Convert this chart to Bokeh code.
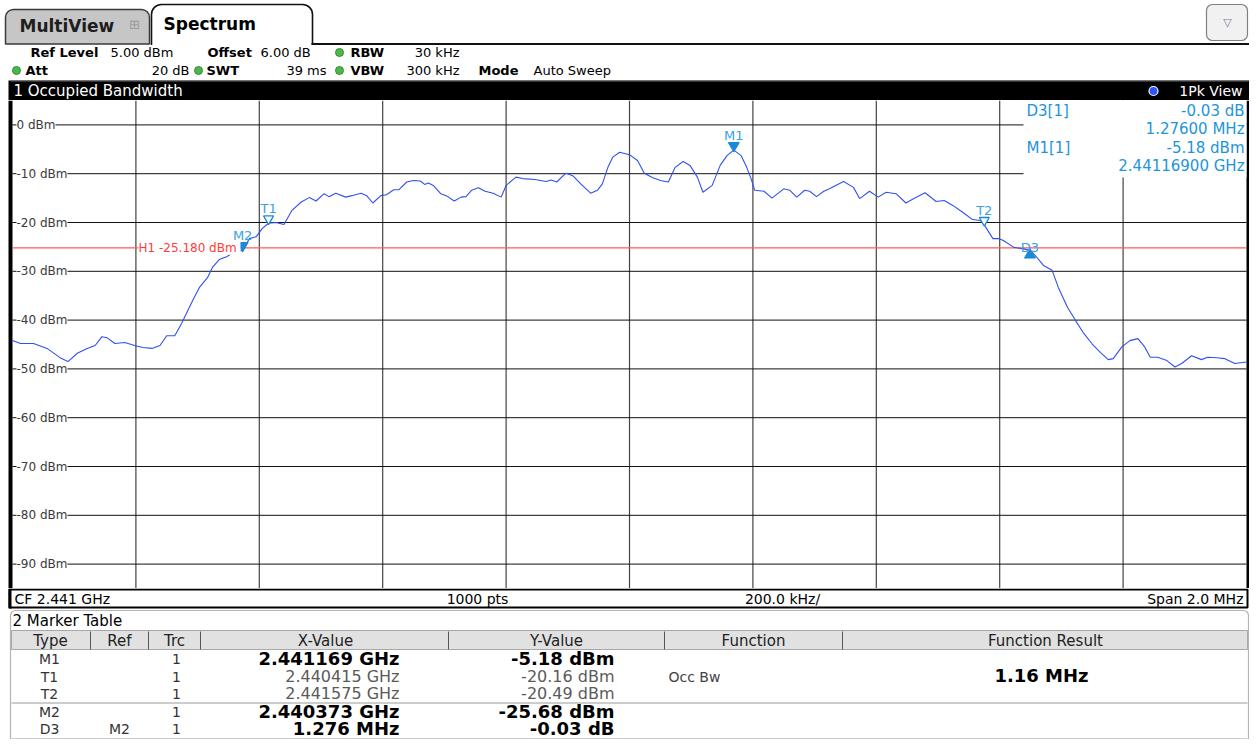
from bokeh.plotting import figure
from bokeh.models import Range1d, Label, LabelSet, ColumnDataSource, BoxAnnotation
from bokeh.layouts import column
from bokeh.core.properties import value
from bokeh.embed import file_html
from bokeh.resources import INLINE

# ---------------- data ----------------
center_ghz = 2.441
span_mhz = 2.0
ref_level_dbm = 5.0
range_db = 100.0
n_points = 1000
rbw_khz = 30
vbw_khz = 300
att_db = 20
offset_db = 6.0
swt_ms = 39

# trace (offset from start frequency, MHz) and level (dBm)
trace_offset_mhz = [
    0.000, 0.013, 0.034, 0.056, 0.077, 0.090, 0.105, 0.121, 0.134, 0.145,
    0.153, 0.166, 0.182, 0.198, 0.211, 0.226, 0.239, 0.250, 0.263, 0.274,
    0.282, 0.292, 0.303, 0.316, 0.324, 0.335, 0.347, 0.356, 0.373, 0.384,
    0.395, 0.405, 0.415, 0.427, 0.440, 0.453, 0.468, 0.481, 0.492, 0.505,
    0.513, 0.524, 0.540, 0.550, 0.565, 0.574, 0.584, 0.597, 0.606, 0.618,
    0.626, 0.639, 0.650, 0.661, 0.668, 0.674, 0.682, 0.694, 0.703, 0.716,
    0.727, 0.735, 0.744, 0.755, 0.766, 0.779, 0.792, 0.800, 0.816, 0.827,
    0.847, 0.865, 0.873, 0.882, 0.897, 0.908, 0.921, 0.937, 0.948, 0.956,
    0.965, 0.973, 0.984, 1.000, 1.013, 1.024, 1.037, 1.050, 1.063, 1.074,
    1.087, 1.098, 1.110, 1.119, 1.134, 1.147, 1.158, 1.169, 1.181, 1.190,
    1.197, 1.203, 1.218, 1.231, 1.250, 1.260, 1.271, 1.284, 1.292, 1.303,
    1.315, 1.324, 1.347, 1.363, 1.373, 1.389, 1.403, 1.416, 1.432, 1.448,
    1.461, 1.479, 1.497, 1.510, 1.524, 1.540, 1.556, 1.569, 1.575, 1.589,
    1.598, 1.606, 1.623, 1.639, 1.649, 1.655, 1.671, 1.685, 1.695, 1.710,
    1.723, 1.735, 1.750, 1.763, 1.776, 1.784, 1.798, 1.811, 1.824, 1.835,
    1.844, 1.856, 1.871, 1.884, 1.895, 1.911, 1.927, 1.937, 1.952, 1.965,
    1.981, 2.000,
]
trace_dbm = [
    -44.2, -44.8, -44.8, -45.8, -47.7, -48.5, -46.8, -45.8, -45.2, -43.4,
    -43.6, -44.8, -44.6, -45.2, -45.6, -45.8, -45.2, -43.2, -43.2, -40.7,
    -38.6, -36.0, -33.3, -31.3, -29.2, -27.6, -27.0, -26.3, -25.68, -23.3,
    -22.9, -21.2, -20.16, -20.0, -20.4, -17.5, -15.8, -14.9, -15.6, -14.1,
    -14.7, -14.0, -14.8, -14.5, -14.0, -14.5, -16.0, -14.5, -14.3, -13.3,
    -13.3, -11.7, -11.4, -11.5, -12.2, -11.9, -12.4, -14.1, -14.5, -15.6,
    -14.8, -14.7, -13.4, -12.9, -13.6, -14.0, -14.8, -12.4, -10.7, -11.0,
    -11.2, -11.6, -11.3, -11.7, -9.9, -10.4, -12.1, -14.0, -13.4, -12.1,
    -8.7, -6.6, -5.6, -6.1, -7.3, -9.9, -10.8, -11.4, -11.7, -8.7,
    -7.5, -8.3, -10.7, -13.8, -12.4, -8.3, -6.3, -5.18, -6.3, -8.7,
    -11.0, -13.4, -13.6, -15.0, -13.1, -13.4, -14.8, -13.4, -13.6, -14.7,
    -13.6, -13.1, -11.6, -12.8, -15.1, -13.6, -14.8, -13.8, -14.1, -16.0,
    -15.1, -13.9, -15.7, -15.5, -16.5, -17.9, -19.4, -19.6, -20.49, -23.3,
    -23.3, -23.7, -25.1, -25.4, -25.71, -26.4, -28.8, -29.8, -33.3, -37.4,
    -40.1, -42.5, -44.9, -46.6, -48.1, -47.9, -45.5, -44.2, -43.8, -45.5,
    -47.6, -47.6, -48.3, -49.6, -48.9, -47.3, -48.1, -47.6, -47.7, -47.9,
    -48.9, -48.6,
]

y_ticks_dbm = [0, -10, -20, -30, -40, -50, -60, -70, -80, -90]
x_div_mhz = [0.2, 0.4, 0.6, 0.8, 1.0, 1.2, 1.4, 1.6, 1.8]

# markers
m1_ghz, m1_dbm = 2.441169, -5.18
t1_ghz, t1_dbm = 2.440415, -20.16
t2_ghz, t2_dbm = 2.441575, -20.49
m2_ghz, m2_dbm = 2.440373, -25.68
d3_dx_mhz, d3_dy_db = 1.276, -0.03
h1_dbm = -25.180
occ_bw_mhz = 1.16

# ---------------- helpers ----------------
FONT = "DejaVu Sans"
W = 1249


def base_fig(h, xr, yr, bg="white"):
    p = figure(width=W, height=h, x_range=xr, y_range=yr,
               toolbar_location=None, output_backend="svg", x_axis_location=None, y_axis_location=None,
               min_border_left=0, min_border_right=0, min_border_top=0, min_border_bottom=0,
               outline_line_color=None, background_fill_color=bg, border_fill_color=bg)
    p.grid.visible = False
    return p


def canvas(h, y_top, y_bot):
    return base_fig(h, Range1d(0, W), Range1d(y_bot, y_top))


def txt(p, x, y, s, size=13, bold=False, color="#000000", align="left", font=FONT):
    p.text(x=[x], y=[y], text=[s], text_font=value(font), text_font_size=value(f"{size}px"),
           text_font_style="bold" if bold else "normal", text_color=color,
           text_align=align, text_baseline="middle")


# ---------------- header ----------------
hdr = canvas(100, 0, 100)
hdr.add_layout(BoxAnnotation(left=5, right=149, top=9, bottom=43.5, fill_color="#c6c6c6", fill_alpha=1,
                             line_color="#3a3a3a", line_alpha=1, line_width=1.5,
                             border_radius=(8, 8, 0, 0), level="underlay"))
hdr.add_layout(BoxAnnotation(left=151, right=312, top=4, bottom=52, fill_color="white", fill_alpha=1,
                             line_color="#111111", line_alpha=1, line_width=1.6,
                             border_radius=(10, 10, 0, 0), level="underlay"))
hdr.add_layout(BoxAnnotation(left=1206, right=1247, top=4, bottom=40, fill_color="#f1f1f1", fill_alpha=1,
                             line_color="#808080", line_alpha=1, line_width=1.2,
                             border_radius=6, level="underlay"))
hdr.quad(left=[0], right=[W], top=[44.6], bottom=[80], fill_color="white", line_color=None)
hdr.segment(x0=[311], x1=[W], y0=[43.5], y1=[43.5], line_color="#111111", line_width=2)
txt(hdr, 19, 25, "MultiView", 17, True, "#1e1e1e")
txt(hdr, 134, 24, "\u229e", 13, False, "#9a9a9a", "center")
txt(hdr, 163, 23, "Spectrum", 17, True, "#000000")
txt(hdr, 1227, 22, "\u25bd", 11, False, "#7a7a9a", "center")

# setting lines
txt(hdr, 30, 52, "Ref Level", 13, True)
txt(hdr, 110, 52, f"{ref_level_dbm:.2f} dBm", 13)
txt(hdr, 207, 52, "Offset", 13, True)
txt(hdr, 260, 52, f"{offset_db:.2f} dB", 13)
txt(hdr, 350, 52, "RBW", 13, True)
txt(hdr, 459, 52, f"{rbw_khz} kHz", 13, align="right")
txt(hdr, 25, 70, "Att", 13, True)
txt(hdr, 189, 70, f"{att_db} dB", 13, align="right")
txt(hdr, 206, 70, "SWT", 13, True)
txt(hdr, 326, 70, f"{swt_ms} ms", 13, align="right")
txt(hdr, 350, 70, "VBW", 13, True)
txt(hdr, 459, 70, f"{vbw_khz} kHz", 13, align="right")
txt(hdr, 478, 70, "Mode", 13, True)
txt(hdr, 533, 70, "Auto Sweep", 13)
hdr.scatter(x=[339, 16, 198, 339], y=[52, 70, 70, 70], size=8, fill_color="#4cb84c", line_color="#2f8f2f")

# window title bar
hdr.quad(left=[8], right=[W], top=[80], bottom=[100], fill_color="#000000", line_color=None)
hdr.segment(x0=[10], x1=[W - 1], y0=[80.5], y1=[80.5], line_color="#6a6a6a", line_width=1)
txt(hdr, 13, 90.5, "1 Occupied Bandwidth", 15, False, "#ffffff")
txt(hdr, 1242, 90.5, "1Pk View", 14, False, "#ffffff", "right")
hdr.scatter(x=[1153], y=[90.5], size=9, fill_color="#2a55ff", line_color="#ffffff", line_width=1.2)

# ---------------- main diagram ----------------
PX0, PX1 = 12, 1246            # pixel columns of start / stop frequency
f0 = center_ghz * 1000 - span_mhz / 2
f1 = f0 + span_mhz
mhz_px = span_mhz / (PX1 - PX0)
y_top = ref_level_dbm
y_bot = ref_level_dbm - range_db
db_px = range_db / 488.0
main = base_fig(488, Range1d(f0 - PX0 * mhz_px, f1 + (W - PX1) * mhz_px), Range1d(y_bot, y_top))


def mx(px):
    return f0 + (px - PX0) * mhz_px


# black window frame left / right
main.quad(left=[mx(8), f1], right=[f0, mx(W)], top=[y_top] * 2, bottom=[y_bot] * 2,
          fill_color="#000000", line_color=None)

gx = [f0 + d for d in x_div_mhz]
main.segment(x0=gx, x1=gx, y0=[y_bot] * len(gx), y1=[y_top] * len(gx), line_color="#444444", line_width=1.2)
main.segment(x0=[f0] * len(y_ticks_dbm), x1=[f1] * len(y_ticks_dbm), y0=y_ticks_dbm, y1=y_ticks_dbm,
             line_color="#111111", line_width=1)
# marker info field (covers the grid)
main.quad(left=[mx(1023)], right=[f1], top=[y_top], bottom=[y_top - 77 * db_px],
          fill_color="white", line_color=None)

ylab = ColumnDataSource(dict(x=[mx(16)] * len(y_ticks_dbm), y=y_ticks_dbm,
                             t=[f"{v} dBm" for v in y_ticks_dbm]))
main.add_layout(LabelSet(x="x", y="y", text="t", source=ylab, text_font=value(FONT),
                         text_font_size=value("12px"), text_color="#3a3a3a", text_baseline="middle",
                         background_fill_color="white"))

# display line H1 (limited to the diagram area)
main.segment(x0=[f0], x1=[f1], y0=[h1_dbm], y1=[h1_dbm], line_color="#ff5a5a", line_width=1.3)

trace_mhz = [f0 + o for o in trace_offset_mhz]
main.line(trace_mhz, trace_dbm, line_color="#3050f0", line_width=1.1)

main.add_layout(Label(x=mx(138), y=h1_dbm, text=f"H1  {h1_dbm:.3f} dBm", text_font=FONT,
                      text_font_size="12px", text_color="#ff3b3b", text_baseline="middle",
                      background_fill_color="white"))

d3_mhz = m2_ghz * 1000 + d3_dx_mhz
d3_dbm = m2_dbm + d3_dy_db
mk_col = "#1a8ad8"
lab_col = "#38a2e6"
tri = 4.5 * db_px
main.scatter(x=[m1_ghz * 1000, m2_ghz * 1000], y=[m1_dbm + tri, m2_dbm + tri], marker="inverted_triangle",
             size=11, fill_color=mk_col, line_color=mk_col)
main.scatter(x=[t1_ghz * 1000, t2_ghz * 1000], y=[t1_dbm + tri, t2_dbm + tri], marker="inverted_triangle",
             size=10, fill_color="white", line_color=mk_col, line_width=1.3)
main.scatter(x=[d3_mhz], y=[d3_dbm - tri], marker="triangle", size=11, fill_color=mk_col, line_color=mk_col)

mk_src = ColumnDataSource(dict(x=[m1_ghz * 1000, t1_ghz * 1000, t2_ghz * 1000, m2_ghz * 1000],
                               y=[m1_dbm, t1_dbm, t2_dbm, m2_dbm], t=["M1", "T1", "T2", "M2"]))
main.add_layout(LabelSet(x="x", y="y", text="t", source=mk_src, y_offset=10, text_font=value(FONT),
                         text_font_size=value("13px"), text_color=lab_col, text_align="center",
                         text_baseline="alphabetic"))
main.add_layout(Label(x=d3_mhz, y=d3_dbm, text="D3", y_offset=3, text_font=FONT, text_font_size="13px",
                      text_color=lab_col, text_align="center", text_baseline="alphabetic"))

# marker info texts
ix_l = mx(1026)
ix_r = mx(1244)
iy = [y_top - 10 * db_px, y_top - 28 * db_px, y_top - 47 * db_px, y_top - 65 * db_px]
info_col = "#1e94dc"
for (x, y, s, al) in [(ix_l, iy[0], "D3[1]", "left"),
                      (ix_r, iy[0], f"{d3_dy_db:.2f} dB", "right"),
                      (ix_r, iy[1], f"{d3_dx_mhz:.5f} MHz", "right"),
                      (ix_l, iy[2], "M1[1]", "left"),
                      (ix_r, iy[2], f"{m1_dbm:.2f} dBm", "right"),
                      (ix_r, iy[3], f"{m1_ghz:.8f} GHz", "right")]:
    main.text(x=[x], y=[y], text=[s], text_font=value(FONT), text_font_size=value("15px"),
              text_color=info_col, text_align=al, text_baseline="middle")

# ---------------- bottom: status bar + marker table ----------------
bot = canvas(151, 588, 739)
bot.add_layout(BoxAnnotation(left=10, right=W - 1, top=610, bottom=760, fill_color="white", fill_alpha=1,
                             line_color="#b4b4b4", line_alpha=1, line_width=1.2,
                             border_radius=(5, 5, 0, 0), level="underlay"))
bot.quad(left=[9], right=[W - 2], top=[589], bottom=[607], fill_color="white", line_color="#000000",
         line_width=2)
bot.quad(left=[8], right=[11], top=[588], bottom=[608], fill_color="#000000", line_color=None)
txt(bot, 14, 598, f"CF {center_ghz:.3f} GHz", 14)
txt(bot, 477, 598, f"{n_points} pts", 14, align="center")
txt(bot, 782, 598, f"{span_mhz / 10 * 1000:.1f} kHz/", 14, align="center")
txt(bot, 1243, 598, f"Span {span_mhz:.1f} MHz", 14, align="right")

txt(bot, 12, 620, "2 Marker Table", 15)
bot.quad(left=[11], right=[W - 2], top=[630], bottom=[649], fill_color="#e1e1e1", line_color="#a8a8a8",
         line_width=1)
seps = [90, 148, 200, 448, 664, 842]
bot.segment(x0=seps, x1=seps, y0=[631] * len(seps), y1=[649] * len(seps), line_color="#555555", line_width=1)
for cx, s in [(50, "Type"), (119, "Ref"), (174, "Trc"), (325, "X-Value"), (556, "Y-Value"),
              (753, "Function"), (1045, "Function Result")]:
    txt(bot, cx, 640, s, 15, False, "#222222", "center")
bot.segment(x0=[11, 11], x1=[W - 2, W - 2], y0=[702.5, 738.5], y1=[702.5, 738.5], line_color="#9a9a9a",
            line_width=1)

rows_y = [658, 676, 693, 711, 728]
tbl_type = ["M1", "T1", "T2", "M2", "D3"]
tbl_ref = ["", "", "", "", "M2"]
tbl_x = [f"{m1_ghz:.6f} GHz", f"{t1_ghz:.6f} GHz", f"{t2_ghz:.6f} GHz", f"{m2_ghz:.6f} GHz",
         f"{d3_dx_mhz:.3f} MHz"]
tbl_y = [f"{m1_dbm:.2f} dBm", f"{t1_dbm:.2f} dBm", f"{t2_dbm:.2f} dBm", f"{m2_dbm:.2f} dBm",
         f"{d3_dy_db:.2f} dB"]
tbl_bold = [True, False, False, True, True]
for i, y in enumerate(rows_y):
    txt(bot, 49, y, tbl_type[i], 14, False, "#333333", "center")
    if tbl_ref[i]:
        txt(bot, 119, y, tbl_ref[i], 14, False, "#333333", "center")
    txt(bot, 176, y, "1", 14, False, "#333333", "center")
    if tbl_bold[i]:
        txt(bot, 399, y, tbl_x[i], 18, True, "#000000", "right")
        txt(bot, 614, y, tbl_y[i], 18, True, "#000000", "right")
    else:
        txt(bot, 399, y, tbl_x[i], 16, False, "#5a5a5a", "right")
        txt(bot, 614, y, tbl_y[i], 16, False, "#5a5a5a", "right")
txt(bot, 668, rows_y[1], "Occ Bw", 14, False, "#444444")
txt(bot, 1041, rows_y[1] - 1, f"{occ_bw_mhz:.2f} MHz", 18, True, "#000000", "center")

layout = column(hdr, main, bot, spacing=0)
open("out.html", "w").write(file_html(layout, INLINE))
